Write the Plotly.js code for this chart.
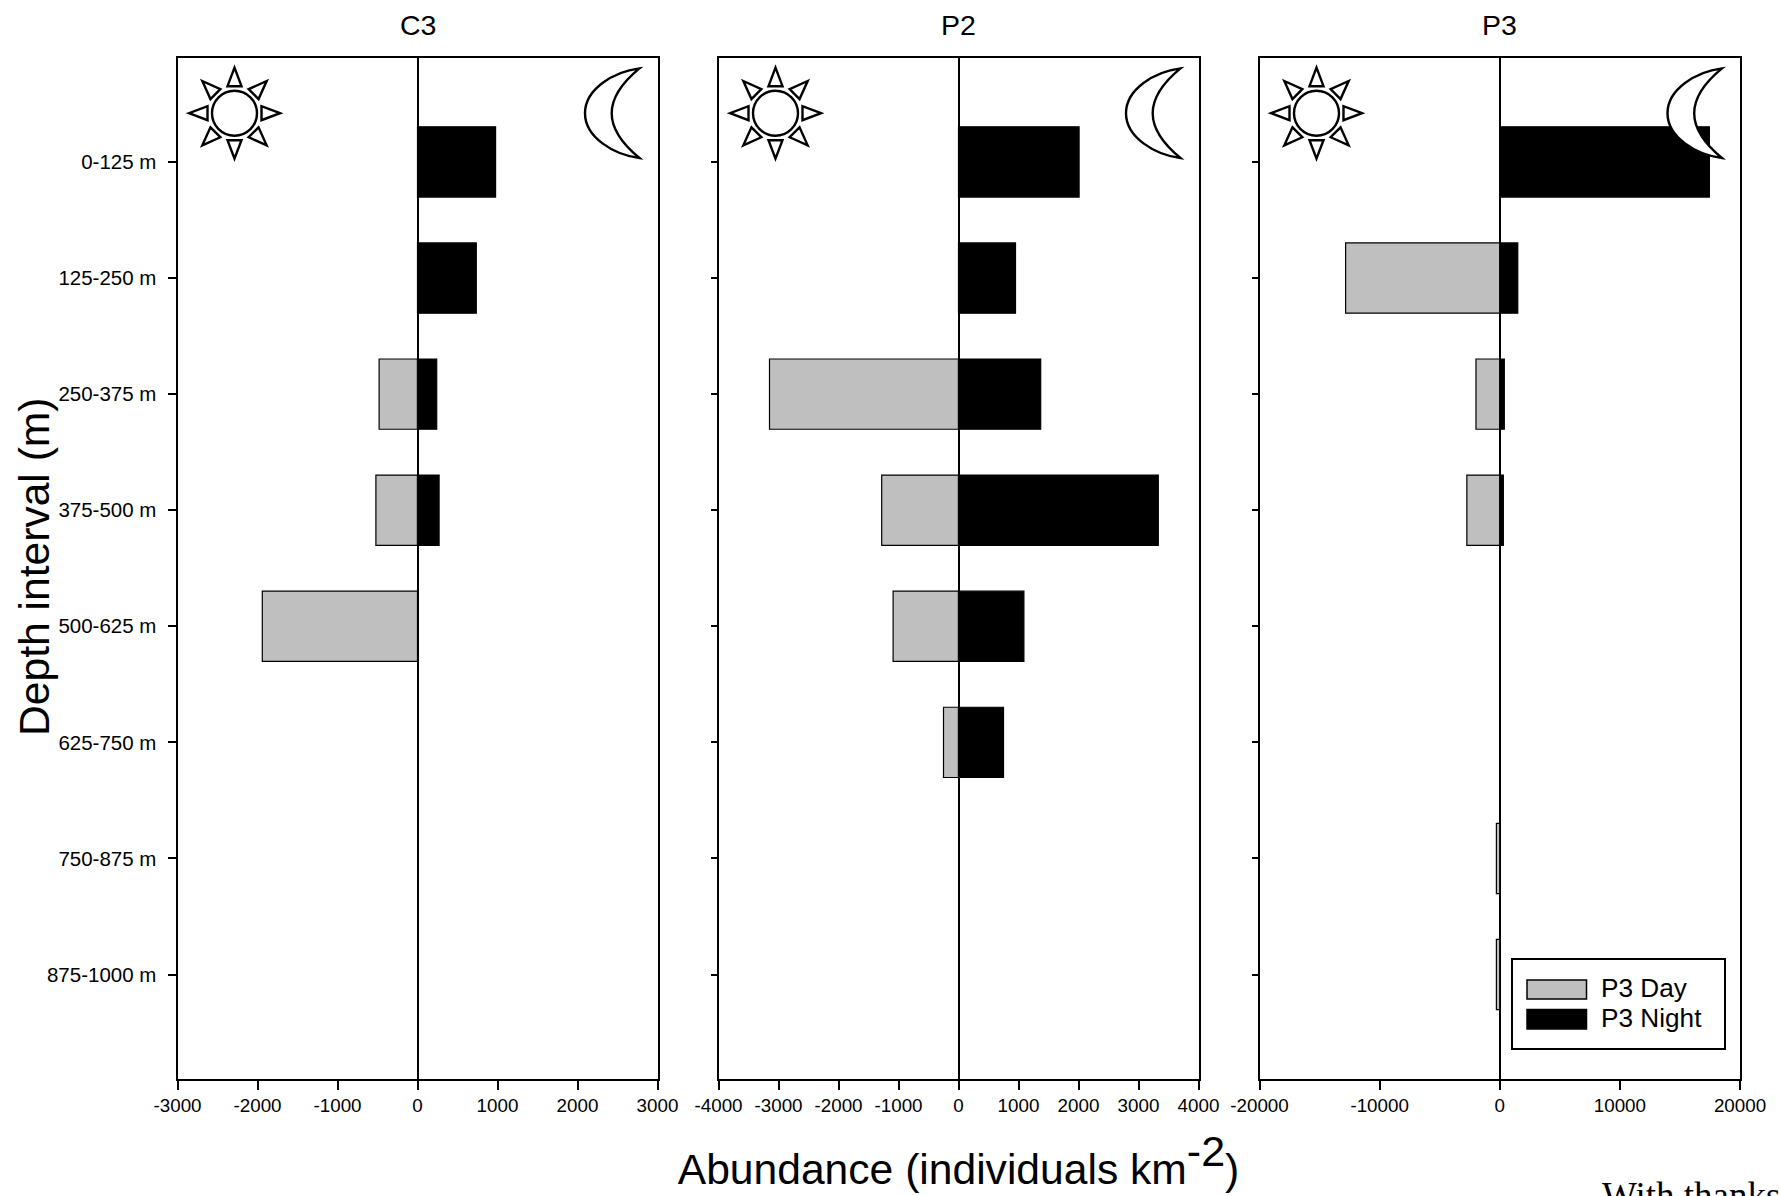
<!DOCTYPE html>
<html>
<head>
<meta charset="utf-8">
<script src="https://cdn.plot.ly/plotly-3.0.1.min.js"></script>
<style>html,body{margin:0;padding:0;background:#fff;overflow:hidden}</style>
</head>
<body>
<div id="chart" style="width:1780px;height:1196px"></div>
<script>
const depthLabels = ['0-125 m','125-250 m','250-375 m','375-500 m','500-625 m','625-750 m','750-875 m','875-1000 m'];

const c3Day   = [null, null, -480, -520, -1940, null, null, null];
const c3Night = [976, 735, 240, 270, null, null, null, null];
const p2Day   = [null, null, -3150, -1280, -1090, -250, null, null];
const p2Night = [2010, 950, 1370, 3330, 1090, 750, null, null];
const p3Day   = [null, -12830, -1980, -2740, null, null, -280, -280];
const p3Night = [17450, 1500, 380, 300, null, null, null, null];

const c3Ticks = [-3000,-2000,-1000,0,1000,2000,3000];
const p2Ticks = [-4000,-3000,-2000,-1000,0,1000,2000,3000,4000];
const p3Ticks = [-20000,-10000,0,10000,20000];

const panelTitles = ['C3','P2','P3'];
const legendLabels = ['P3 Day','P3 Night'];
const xTitle = 'Abundance (individuals km<sup><span style="font-size:43px">-2</span></sup>)';
const yTitle = 'Depth interval (m)';

const W = 1780, H = 1196;
const FONT = '"Liberation Sans", Arial, sans-serif';
const px = x => x / W, py = y => 1 - y / H;
const panels = [
  {l:177.5, r:657.5, day:c3Day, night:c3Night, ticks:c3Ticks, ylen:8},
  {l:718.5, r:1198.5, day:p2Day, night:p2Night, ticks:p2Ticks, ylen:6},
  {l:1259.5, r:1740, day:p3Day, night:p3Night, ticks:p3Ticks, ylen:6}
];
const TOP = 57.5, BOTTOM = 1079;

const traces = [];
const layout = {
  width: W, height: H, autosize: false,
  margin: {l:0, r:0, t:0, b:0},
  paper_bgcolor: '#fff', plot_bgcolor: '#fff',
  barmode: 'overlay', showlegend: false,
  font: {family: FONT, color: '#000'},
  shapes: [], annotations: []
};

function circlePath(r){
  const k = 0.5523 * r;
  return `M${r},0 C${r},${k} ${k},${r} 0,${r} C${-k},${r} ${-r},${k} ${-r},0 C${-r},${-k} ${-k},${-r} 0,${-r} C${k},${-r} ${r},${-k} ${r},0 Z`;
}
function sunRays(){
  let d = '';
  for (let i = 0; i < 8; i++){
    const a = i * Math.PI / 4, c = Math.cos(a), s = Math.sin(a);
    const pt = (u, v) => `${(u*c - v*s).toFixed(2)},${(u*s + v*c).toFixed(2)}`;
    d += `M${pt(45.5,0)} L${pt(27,7)} L${pt(27,-7)} Z `;
  }
  return d;
}
const moonPath = 'M0,44.8 C-26,41.5 -54.5,24 -54.5,0 C-54.5,-24 -26,-41.5 0,-44.8 C-15,-32.5 -27.8,-17 -27.8,0 C-27.8,17 -15,32.5 0,44.8 Z';

panels.forEach((p, i) => {
  const n = i === 0 ? '' : String(i + 1);
  const xa = 'x' + n, ya = 'y' + n;
  traces.push({type:'bar', orientation:'h', name:panelTitles[i]+' Day', x:p.day, y:depthLabels,
    xaxis:xa, yaxis:ya, width:0.605, marker:{color:'#bfbfbf', line:{color:'#000', width:1.2}}});
  traces.push({type:'bar', orientation:'h', name:panelTitles[i]+' Night', x:p.night, y:depthLabels,
    xaxis:xa, yaxis:ya, width:0.605, marker:{color:'#000', line:{color:'#000', width:1.2}}});

  layout['xaxis'+n] = {
    domain:[px(p.l), px(p.r)], anchor:ya,
    range:[p.ticks[0], p.ticks[p.ticks.length-1]],
    tickmode:'array', tickvals:p.ticks, ticktext:p.ticks.map(String),
    ticks:'outside', ticklen:9, tickwidth:1.5, tickcolor:'#000',
    tickfont:{size:18.8, family:FONT, color:'#000'}, ticklabelstandoff:-1,
    showgrid:false, showline:true, linecolor:'#000', linewidth:2, mirror:true,
    zeroline:true, zerolinecolor:'#000', zerolinewidth:2, fixedrange:true
  };
  layout['yaxis'+n] = {
    domain:[py(BOTTOM), py(TOP)], anchor:xa,
    type:'category', categoryorder:'array', categoryarray:depthLabels,
    range:[7.9,-0.9],
    ticks:'outside', ticklen:p.ylen, tickwidth:1.5, tickcolor:'#000',
    showticklabels:i===0, tickfont:{size:20.5, family:FONT, color:'#000'}, ticklabelstandoff:7,
    showgrid:false, showline:true, linecolor:'#000', linewidth:2, mirror:true,
    zeroline:false, fixedrange:true
  };

  layout.annotations.push({xref:'paper', yref:'paper', x:px((p.l+p.r)/2), y:py(25), text:panelTitles[i],
    showarrow:false, xanchor:'center', yanchor:'middle', font:{size:28.5, family:FONT, color:'#000'}});

  const pix = (path, xa_, fill) => ({type:'path', xref:'paper', yref:'paper', xsizemode:'pixel', ysizemode:'pixel',
    xanchor:px(xa_), yanchor:py(113.2), path, fillcolor:fill, line:{color:'#000', width:2.4}, layer:'above'});
  layout.shapes.push(pix(sunRays(), p.l+57, 'rgba(0,0,0,0)'));
  layout.shapes.push(pix(circlePath(22.5), p.l+57, 'rgba(0,0,0,0)'));
  layout.shapes.push(pix(moonPath, p.r-18, '#fff'));
});

layout.xaxis2.title = {text:xTitle, font:{size:42.6, family:FONT, color:'#000'}, standoff:40};
layout.annotations.push({xref:'paper', yref:'paper', x:px(34), y:py(567), text:yTitle, textangle:-90,
  showarrow:false, xanchor:'center', yanchor:'middle', font:{size:42.6, family:FONT, color:'#000'}});

// legend box, drawn to keep its wide swatches
const rect = (x0,y0,x1,y1,fill,w) => ({type:'rect', xref:'paper', yref:'paper', x0:px(x0), x1:px(x1), y0:py(y0), y1:py(y1),
  fillcolor:fill, line:{color:'#000', width:w}, layer:'above'});
layout.shapes.push(rect(1512,959,1725,1049,'#fff',2));
layout.shapes.push(rect(1527,980,1586.5,999,'#bfbfbf',1.5));
layout.shapes.push(rect(1527,1009.5,1586.5,1029,'#000',1.5));
legendLabels.forEach((t, i) => layout.annotations.push({xref:'paper', yref:'paper', x:px(1599), y:py(988 + i*30), text:t,
  showarrow:false, xanchor:'left', yanchor:'middle', font:{size:26.2, family:FONT, color:'#000'}}));

layout.annotations.push({xref:'paper', yref:'paper', x:px(1600), y:py(1173), text:'With thanks',
  showarrow:false, xanchor:'left', yanchor:'top', font:{size:37, family:'"Liberation Serif", serif', color:'#000'}});

Plotly.newPlot('chart', traces, layout, {displayModeBar:false, responsive:false});
</script>
</body>
</html>
